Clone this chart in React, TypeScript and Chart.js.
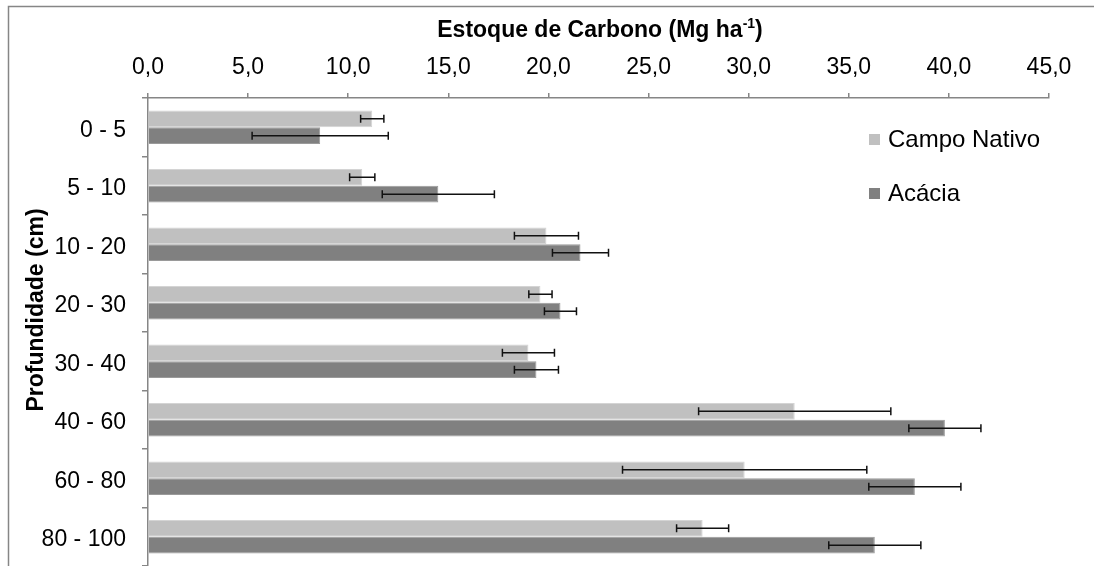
import React, { useEffect, useRef } from "react";
import { Chart, registerables } from "chart.js";

Chart.register(...registerables);

const categories = ["0 - 5", "5 - 10", "10 - 20", "20 - 30", "30 - 40", "40 - 60", "60 - 80", "80 - 100"];
const campoNativo = [11.2, 10.7, 19.9, 19.6, 19.0, 32.3, 29.8, 27.7];
const acacia = [8.6, 14.5, 21.6, 20.6, 19.4, 39.8, 38.3, 36.3];
const campoNativoErr = [0.58, 0.63, 1.6, 0.58, 1.3, 4.8, 6.1, 1.3];
const acaciaErr = [3.4, 2.8, 1.4, 0.8, 1.1, 1.8, 2.3, 2.3];
const seriesNames = ["Campo Nativo", "Acácia"];
const xMin = 0;
const xMax = 45;
const xStep = 5;
const titleMain = "Estoque de Carbono (Mg ha";
const titleSup = "-1";
const titleEnd = ")";
const yTitle = "Profundidade (cm)";

const FONT = "'Liberation Sans', Arial, sans-serif";
const LIGHT = "#c0c0c0";
const DARK = "#808080";
const AXIS = "#868686";

const errors = [campoNativoErr, acaciaErr];

const decorPlugin = {
  id: "decor",
  beforeDraw(chart: any) {
    const ctx = chart.ctx;
    ctx.save();
    ctx.fillStyle = "#ffffff";
    ctx.fillRect(0, 0, chart.width, chart.height);
    ctx.strokeStyle = AXIS;
    ctx.lineWidth = 1.5;
    ctx.beginPath();
    ctx.moveTo(8.5, chart.height);
    ctx.lineTo(8.5, 6.5);
    ctx.lineTo(1094, 6.5);
    ctx.stroke();
    ctx.restore();
  },
  afterDatasetsDraw(chart: any) {
    const ctx = chart.ctx;
    const xs = chart.scales.x;
    ctx.save();
    ctx.strokeStyle = "#111111";
    ctx.lineWidth = 1.5;
    chart.data.datasets.forEach((ds: any, di: number) => {
      const meta = chart.getDatasetMeta(di);
      meta.data.forEach((bar: any, i: number) => {
        const v = ds.data[i];
        const e = errors[di][i];
        const x1 = xs.getPixelForValue(v - e);
        const x2 = xs.getPixelForValue(v + e);
        const y = bar.y;
        ctx.beginPath();
        ctx.moveTo(x1, y);
        ctx.lineTo(x2, y);
        ctx.moveTo(x1, y - 4);
        ctx.lineTo(x1, y + 4);
        ctx.moveTo(x2, y - 4);
        ctx.lineTo(x2, y + 4);
        ctx.stroke();
      });
    });
    ctx.restore();
  },
  afterDraw(chart: any) {
    const ctx = chart.ctx;
    ctx.save();
    // Title with superscript
    const mainFont = `bold 23px ${FONT}`;
    const supFont = `bold 14px ${FONT}`;
    ctx.font = mainFont;
    const w1 = ctx.measureText(titleMain).width;
    const w3 = ctx.measureText(titleEnd).width;
    ctx.font = supFont;
    const w2 = ctx.measureText(titleSup).width;
    const total = w1 + w2 + w3;
    let x = 600 - total / 2;
    const ty = 31;
    ctx.fillStyle = "#000000";
    ctx.textBaseline = "middle";
    ctx.textAlign = "left";
    ctx.font = mainFont;
    ctx.fillText(titleMain, x, ty);
    x += w1;
    ctx.font = supFont;
    ctx.fillText(titleSup, x, ty - 7);
    x += w2;
    ctx.font = mainFont;
    ctx.fillText(titleEnd, x, ty);

    // Y axis title
    ctx.save();
    ctx.translate(37, 310);
    ctx.rotate(-Math.PI / 2);
    ctx.font = `bold 23px ${FONT}`;
    ctx.textAlign = "center";
    ctx.textBaseline = "middle";
    ctx.fillText(yTitle, 0, 0);
    ctx.restore();

    // Legend
    const colors = [LIGHT, DARK];
    const ly = [140, 194];
    ctx.font = `24px ${FONT}`;
    ctx.textAlign = "left";
    ctx.textBaseline = "middle";
    seriesNames.forEach((name, i) => {
      ctx.fillStyle = colors[i];
      ctx.fillRect(869, ly[i] - 6, 11, 11);
      ctx.fillStyle = "#000000";
      ctx.fillText(name, 888, ly[i]);
    });
    ctx.restore();
  },
};

export default function App() {
  const ref = useRef<HTMLCanvasElement>(null);
  useEffect(() => {
    if (!ref.current) return;
    const chart = new Chart(ref.current, {
      type: "bar",
      data: {
        labels: categories,
        datasets: [
          {
            label: seriesNames[0],
            data: campoNativo,
            backgroundColor: LIGHT,
            borderColor: "#d4d4d4",
            borderWidth: 1,
          },
          {
            label: seriesNames[1],
            data: acacia,
            backgroundColor: DARK,
            borderColor: "#9a9a9a",
            borderWidth: 1,
          },
        ],
      },
      options: {
        indexAxis: "y",
        responsive: false,
        animation: false,
        devicePixelRatio: 1,
        layout: { padding: { top: 0, right: 55, bottom: 0, left: 0 } },
        datasets: {
          bar: { categoryPercentage: 0.575, barPercentage: 1 },
        },
        plugins: {
          legend: { display: false },
          tooltip: { enabled: false },
          title: { display: false },
        },
        scales: {
          x: {
            position: "top",
            min: xMin,
            max: xMax,
            afterFit: (s: any) => {
              s.height = 98;
              s.paddingLeft = 0;
              s.paddingRight = 0;
            },
            ticks: {
              stepSize: xStep,
              padding: 12,
              color: "#000000",
              font: { family: FONT, size: 23 },
              callback: (v: any) => Number(v).toFixed(1).replace(".", ","),
            },
            grid: {
              drawOnChartArea: false,
              drawTicks: true,
              tickLength: 5,
              color: AXIS,
              lineWidth: 1.5,
            },
            border: { display: true, color: AXIS, width: 1.5 },
          },
          y: {
            afterFit: (s: any) => {
              s.width = 148;
              s.paddingTop = 0;
              s.paddingBottom = 0;
            },
            ticks: {
              padding: 16,
              labelOffset: 3,
              color: "#000000",
              font: { family: FONT, size: 23 },
            },
            grid: {
              offset: true,
              drawOnChartArea: false,
              drawTicks: true,
              tickLength: 6,
              color: AXIS,
              lineWidth: 1.5,
            },
            border: { display: true, color: AXIS, width: 1.5 },
          },
        },
      },
      plugins: [decorPlugin],
    } as any);
    return () => chart.destroy();
  }, []);
  return (
    <div style={{ position: "absolute", left: 0, top: 0, width: 1104, height: 566 }}>
      <canvas ref={ref} width={1104} height={566} style={{ display: "block" }} />
    </div>
  );
}
